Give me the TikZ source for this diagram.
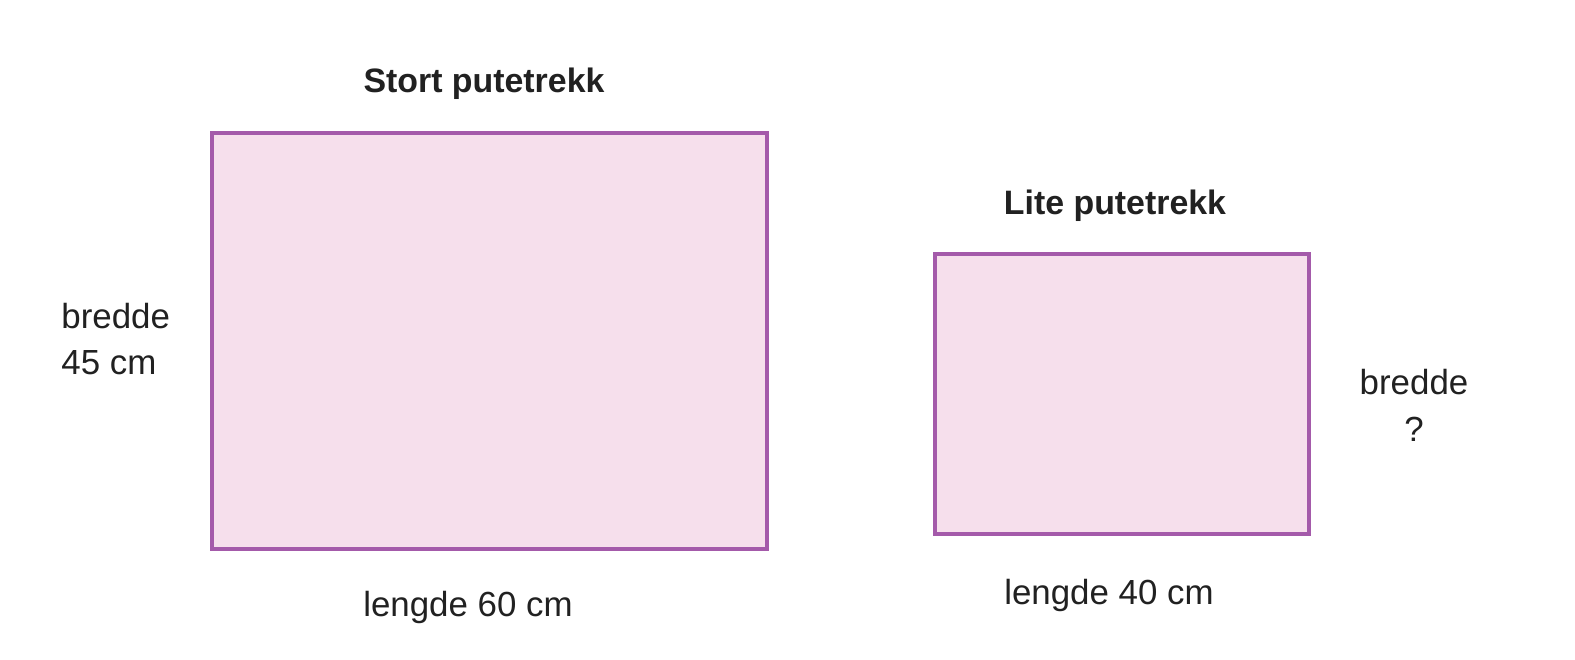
\documentclass[tikz,border=0pt]{standalone}
\usepackage{fontspec}
\setmainfont{Liberation Sans}
\definecolor{edge}{HTML}{A45AAA}
\definecolor{fillc}{HTML}{F6DFEC}
\definecolor{txt}{HTML}{212121}
\begin{document}
\begin{tikzpicture}[x=0.5bp,y=-0.5bp,
  box/.style={draw=edge,fill=fillc,line width=2bp},
  lbl/.style={font=\fontsize{17.5}{23.5}\selectfont,text=txt,inner sep=0pt},
  ttl/.style={font=\fontsize{17}{23}\selectfont\bfseries,text=txt,inner sep=0pt}]
\useasboundingbox (0,0) rectangle (1575,660);
\fill[white] (0,0) rectangle (1575,660);
\draw[box] (212,133) rectangle (767,549);
\draw[box] (935,254) rectangle (1309,534);
\node[ttl] (t1) at (484,84) {Stort putetrekk};
\node[ttl] (t2) at (1115,206) {Lite putetrekk};
\node[lbl,align=left,anchor=west] (b1) at (61,339) {bredde\\45 cm};
\node[lbl] (l1) at (468,607) {lengde 60 cm};
\node[lbl] (l2) at (1109,595) {lengde 40 cm};
\node[lbl,align=center] (b2) at (1414,405) {bredde\\?};
\end{tikzpicture}
\end{document}
